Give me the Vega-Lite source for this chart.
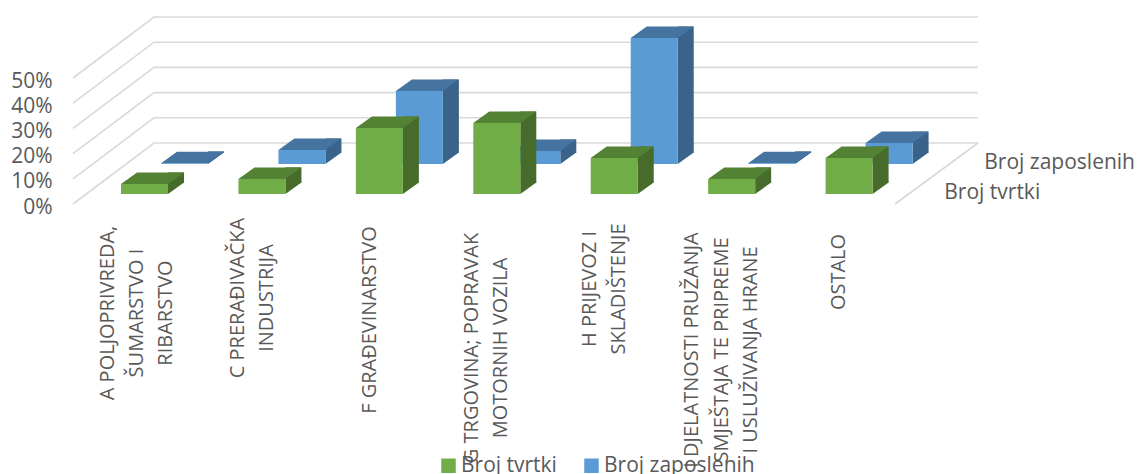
{"$schema":"https://vega.github.io/schema/vega-lite/v6.json","width":822,"height":126,"autosize":{"type":"none"},"padding":{"left":73,"top":78,"right":242,"bottom":270},"background":"white",
"config":{"font":"Open Sans","view":{"stroke":null}},
"resolve":{"axis":{"y":"independent"}},
"datasets":{
"bars":[
{"category":"A","series":"Broj tvrtki","value":4},{"category":"C","series":"Broj tvrtki","value":6},{"category":"F","series":"Broj tvrtki","value":26.2},{"category":"G","series":"Broj tvrtki","value":28.2},{"category":"H","series":"Broj tvrtki","value":14.3},{"category":"I","series":"Broj tvrtki","value":6},{"category":"OSTALO","series":"Broj tvrtki","value":14.3},
{"category":"A","series":"Broj zaposlenih","value":0.3},{"category":"C","series":"Broj zaposlenih","value":5.6},{"category":"F","series":"Broj zaposlenih","value":29},{"category":"G","series":"Broj zaposlenih","value":5.2},{"category":"H","series":"Broj zaposlenih","value":50},{"category":"I","series":"Broj zaposlenih","value":0.3},{"category":"OSTALO","series":"Broj zaposlenih","value":8.3}],
"grid":[{"category":"A","pct":0},{"category":"A","pct":10},{"category":"A","pct":20},{"category":"A","pct":30},{"category":"A","pct":40},{"category":"A","pct":50}],
"labels":[{"category":"A","label":"A POLJOPRIVREDA,|ŠUMARSTVO I|RIBARSTVO"},{"category":"C","label":"C PRERAĐIVAČKA|INDUSTRIJA"},{"category":"F","label":"F GRAĐEVINARSTVO"},{"category":"G","label":"G TRGOVINA; POPRAVAK|MOTORNIH VOZILA"},{"category":"H","label":"H PRIJEVOZ I|SKLADIŠTENJE"},{"category":"I","label":"I DJELATNOSTI PRUŽANJA|SMJEŠTAJA TE PRIPREME|I USLUŽIVANJA HRANE"},{"category":"OSTALO","label":"OSTALO"}]
},
"layer":[
{"data":{"name":"grid"},"mark":{"type":"point","shape":"M-58.7,0L22.3,-61L846.3,-61","size":4,"filled":false,"stroke":"#d9d9d9","strokeWidth":1.6,"opacity":1},
"encoding":{"x":{"field":"category","type":"nominal","scale":{"type":"band","domain":["A","C","F","G","H","I","OSTALO"],"paddingInner":0,"paddingOuter":0},"axis":null},
"y":{"field":"pct","type":"quantitative","scale":{"domain":[0,50],"nice":false},"axis":{"values":[0,10,20,30,40,50],"labelExpr":"datum.value+'%'","title":null,"grid":false,"ticks":false,"domain":false,"labelPadding":21,"labelFontSize":21,"labelColor":"#595959","labelFont":"Open Sans","labelOverlap":false,"labelOffset":3}}}},
{"data":{"name":"grid"},"transform":[{"filter":"datum.pct==0"}],"mark":{"type":"point","shape":"M822,0L905,-61","size":4,"filled":false,"stroke":"#d9d9d9","strokeWidth":1.6,"opacity":1,"xOffset":-58.7},
"encoding":{"x":{"field":"category","type":"nominal","scale":{"type":"band","domain":["A","C","F","G","H","I","OSTALO"],"paddingInner":0,"paddingOuter":0},"axis":null},"y":{"field":"pct","type":"quantitative","scale":{"domain":[0,50],"nice":false},"axis":null}}},

{"data":{"name":"bars"},"transform":[{"filter":"datum.series=='Broj zaposlenih'"}],
"encoding":{"x":{"field":"category","type":"nominal","scale":{"type":"band","domain":["A","C","F","G","H","I","OSTALO"],"paddingInner":0,"paddingOuter":0},"axis":null},"y":{"field":"value","type":"quantitative","scale":{"domain":[0,50],"nice":false},"axis":null}},
"layer":[
{"mark":{"type":"bar","size":16,"color":"#3a638a","xOffset":84.3,"yOffset":-51.5,"y2Offset":-51.5},"encoding":{"y2":{"datum":0}}},
{"mark":{"type":"point","shape":"M76.3,-40L76.3,-52.5L92.3,-52.5L92.3,-51.5Z","size":4,"filled":true,"color":"#3a638a","opacity":1},"encoding":{"y":{"datum":0,"type":"quantitative","scale":{"domain":[0,50],"nice":false},"axis":null}}},
{"mark":{"type":"point","shape":"M29.3,-40L76.3,-40L92.3,-51.5L45.3,-51.5Z","size":4,"filled":true,"color":"#44749f","opacity":1}},
{"mark":{"type":"bar","size":47,"xOffset":52.8,"yOffset":-40,"y2Offset":-40},"encoding":{"y2":{"datum":0},"color":{"field":"series","type":"nominal","scale":{"domain":["Broj tvrtki","Broj zaposlenih"],"range":["#70ad47","#5b9bd5"]},"legend":{"orient":"none","legendX":365,"legendY":377,"direction":"horizontal","columns":2,"title":null,"symbolType":"square","symbolSize":210,"symbolStrokeWidth":0,"labelFontSize":21,"labelColor":"#595959","labelFont":"Open Sans","columnPadding":24,"labelOffset":2}}}}
]},

{"data":{"name":"bars"},"transform":[{"filter":"datum.series=='Broj tvrtki'"}],
"encoding":{"x":{"field":"category","type":"nominal","scale":{"type":"band","domain":["A","C","F","G","H","I","OSTALO"],"paddingInner":0,"paddingOuter":0},"axis":null},"y":{"field":"value","type":"quantitative","scale":{"domain":[0,50],"nice":false},"axis":null}},
"layer":[
{"mark":{"type":"bar","size":16,"color":"#466b2a","xOffset":44.3,"yOffset":-21.5,"y2Offset":-21.5},"encoding":{"y2":{"datum":0}}},
{"mark":{"type":"point","shape":"M36.3,-10L36.3,-22.5L52.3,-22.5L52.3,-21.5Z","size":4,"filled":true,"color":"#466b2a","opacity":1},"encoding":{"y":{"datum":0,"type":"quantitative","scale":{"domain":[0,50],"nice":false},"axis":null}}},
{"mark":{"type":"point","shape":"M-10.7,-10L36.3,-10L52.3,-21.5L5.3,-21.5Z","size":4,"filled":true,"color":"#548235","opacity":1}},
{"mark":{"type":"bar","size":47,"xOffset":12.8,"yOffset":-10,"y2Offset":-10},"encoding":{"y2":{"datum":0},"color":{"field":"series","type":"nominal","scale":{"domain":["Broj tvrtki","Broj zaposlenih"],"range":["#70ad47","#5b9bd5"]},"legend":{"orient":"none","legendX":365,"legendY":377,"direction":"horizontal","columns":2,"title":null,"symbolType":"square","symbolSize":210,"symbolStrokeWidth":0,"labelFontSize":21,"labelColor":"#595959","labelFont":"Open Sans","columnPadding":24,"labelOffset":2}}}}
]},

{"data":{"name":"labels"},
"encoding":{"x":{"field":"category","type":"nominal","scale":{"type":"band","domain":["A","C","F","G","H","I","OSTALO"],"paddingInner":0,"paddingOuter":0},"axis":null},"y":{"datum":0,"type":"quantitative","scale":{"domain":[0,50],"nice":false},"axis":null},"text":{"field":"label"}},
"layer":[
{"transform":[{"filter":"datum.category=='A'"}],"mark":{"type":"text","angle":270,"align":"center","baseline":"middle","lineBreak":"|","lineHeight":29,"fontSize":20,"color":"#595959","xOffset":-24,"yOffset":109}},
{"transform":[{"filter":"datum.category=='C'"}],"mark":{"type":"text","angle":270,"align":"center","baseline":"middle","lineBreak":"|","lineHeight":29,"fontSize":20,"color":"#595959","xOffset":-11,"yOffset":94}},
{"transform":[{"filter":"datum.category=='F'"}],"mark":{"type":"text","angle":270,"align":"center","baseline":"middle","lineBreak":"|","lineHeight":29,"fontSize":20,"color":"#595959","xOffset":3,"yOffset":116}},
{"transform":[{"filter":"datum.category=='G'"}],"mark":{"type":"text","angle":270,"align":"center","baseline":"middle","lineBreak":"|","lineHeight":29,"fontSize":20,"color":"#595959","xOffset":-11.75,"yOffset":144}},
{"transform":[{"filter":"datum.category=='H'"}],"mark":{"type":"text","angle":270,"align":"center","baseline":"middle","lineBreak":"|","lineHeight":29,"fontSize":20,"color":"#595959","xOffset":-11.75,"yOffset":85}},
{"transform":[{"filter":"datum.category=='I'"}],"mark":{"type":"text","angle":270,"align":"center","baseline":"middle","lineBreak":"|","lineHeight":29.5,"fontSize":20,"color":"#595959","xOffset":-26.5,"yOffset":146}},
{"transform":[{"filter":"datum.category=='OSTALO'"}],"mark":{"type":"text","angle":270,"align":"center","baseline":"middle","lineBreak":"|","lineHeight":29,"fontSize":20,"color":"#595959","xOffset":3,"yOffset":68}}
]},

{"data":{"values":[{"category":"OSTALO","series":"Broj zaposlenih"}]},"mark":{"type":"text","align":"left","baseline":"middle","fontSize":21,"color":"#595959","xOffset":148,"yOffset":-41},"encoding":{"x":{"field":"category","type":"nominal","scale":{"type":"band","domain":["A","C","F","G","H","I","OSTALO"],"paddingInner":0,"paddingOuter":0},"axis":null},"y":{"datum":0,"type":"quantitative","scale":{"domain":[0,50],"nice":false},"axis":null},"text":{"field":"series"}}},
{"data":{"values":[{"category":"OSTALO","series":"Broj tvrtki"}]},"mark":{"type":"text","align":"left","baseline":"middle","fontSize":21,"color":"#595959","xOffset":108,"yOffset":-11},"encoding":{"x":{"field":"category","type":"nominal","scale":{"type":"band","domain":["A","C","F","G","H","I","OSTALO"],"paddingInner":0,"paddingOuter":0},"axis":null},"y":{"datum":0,"type":"quantitative","scale":{"domain":[0,50],"nice":false},"axis":null},"text":{"field":"series"}}}
]}
